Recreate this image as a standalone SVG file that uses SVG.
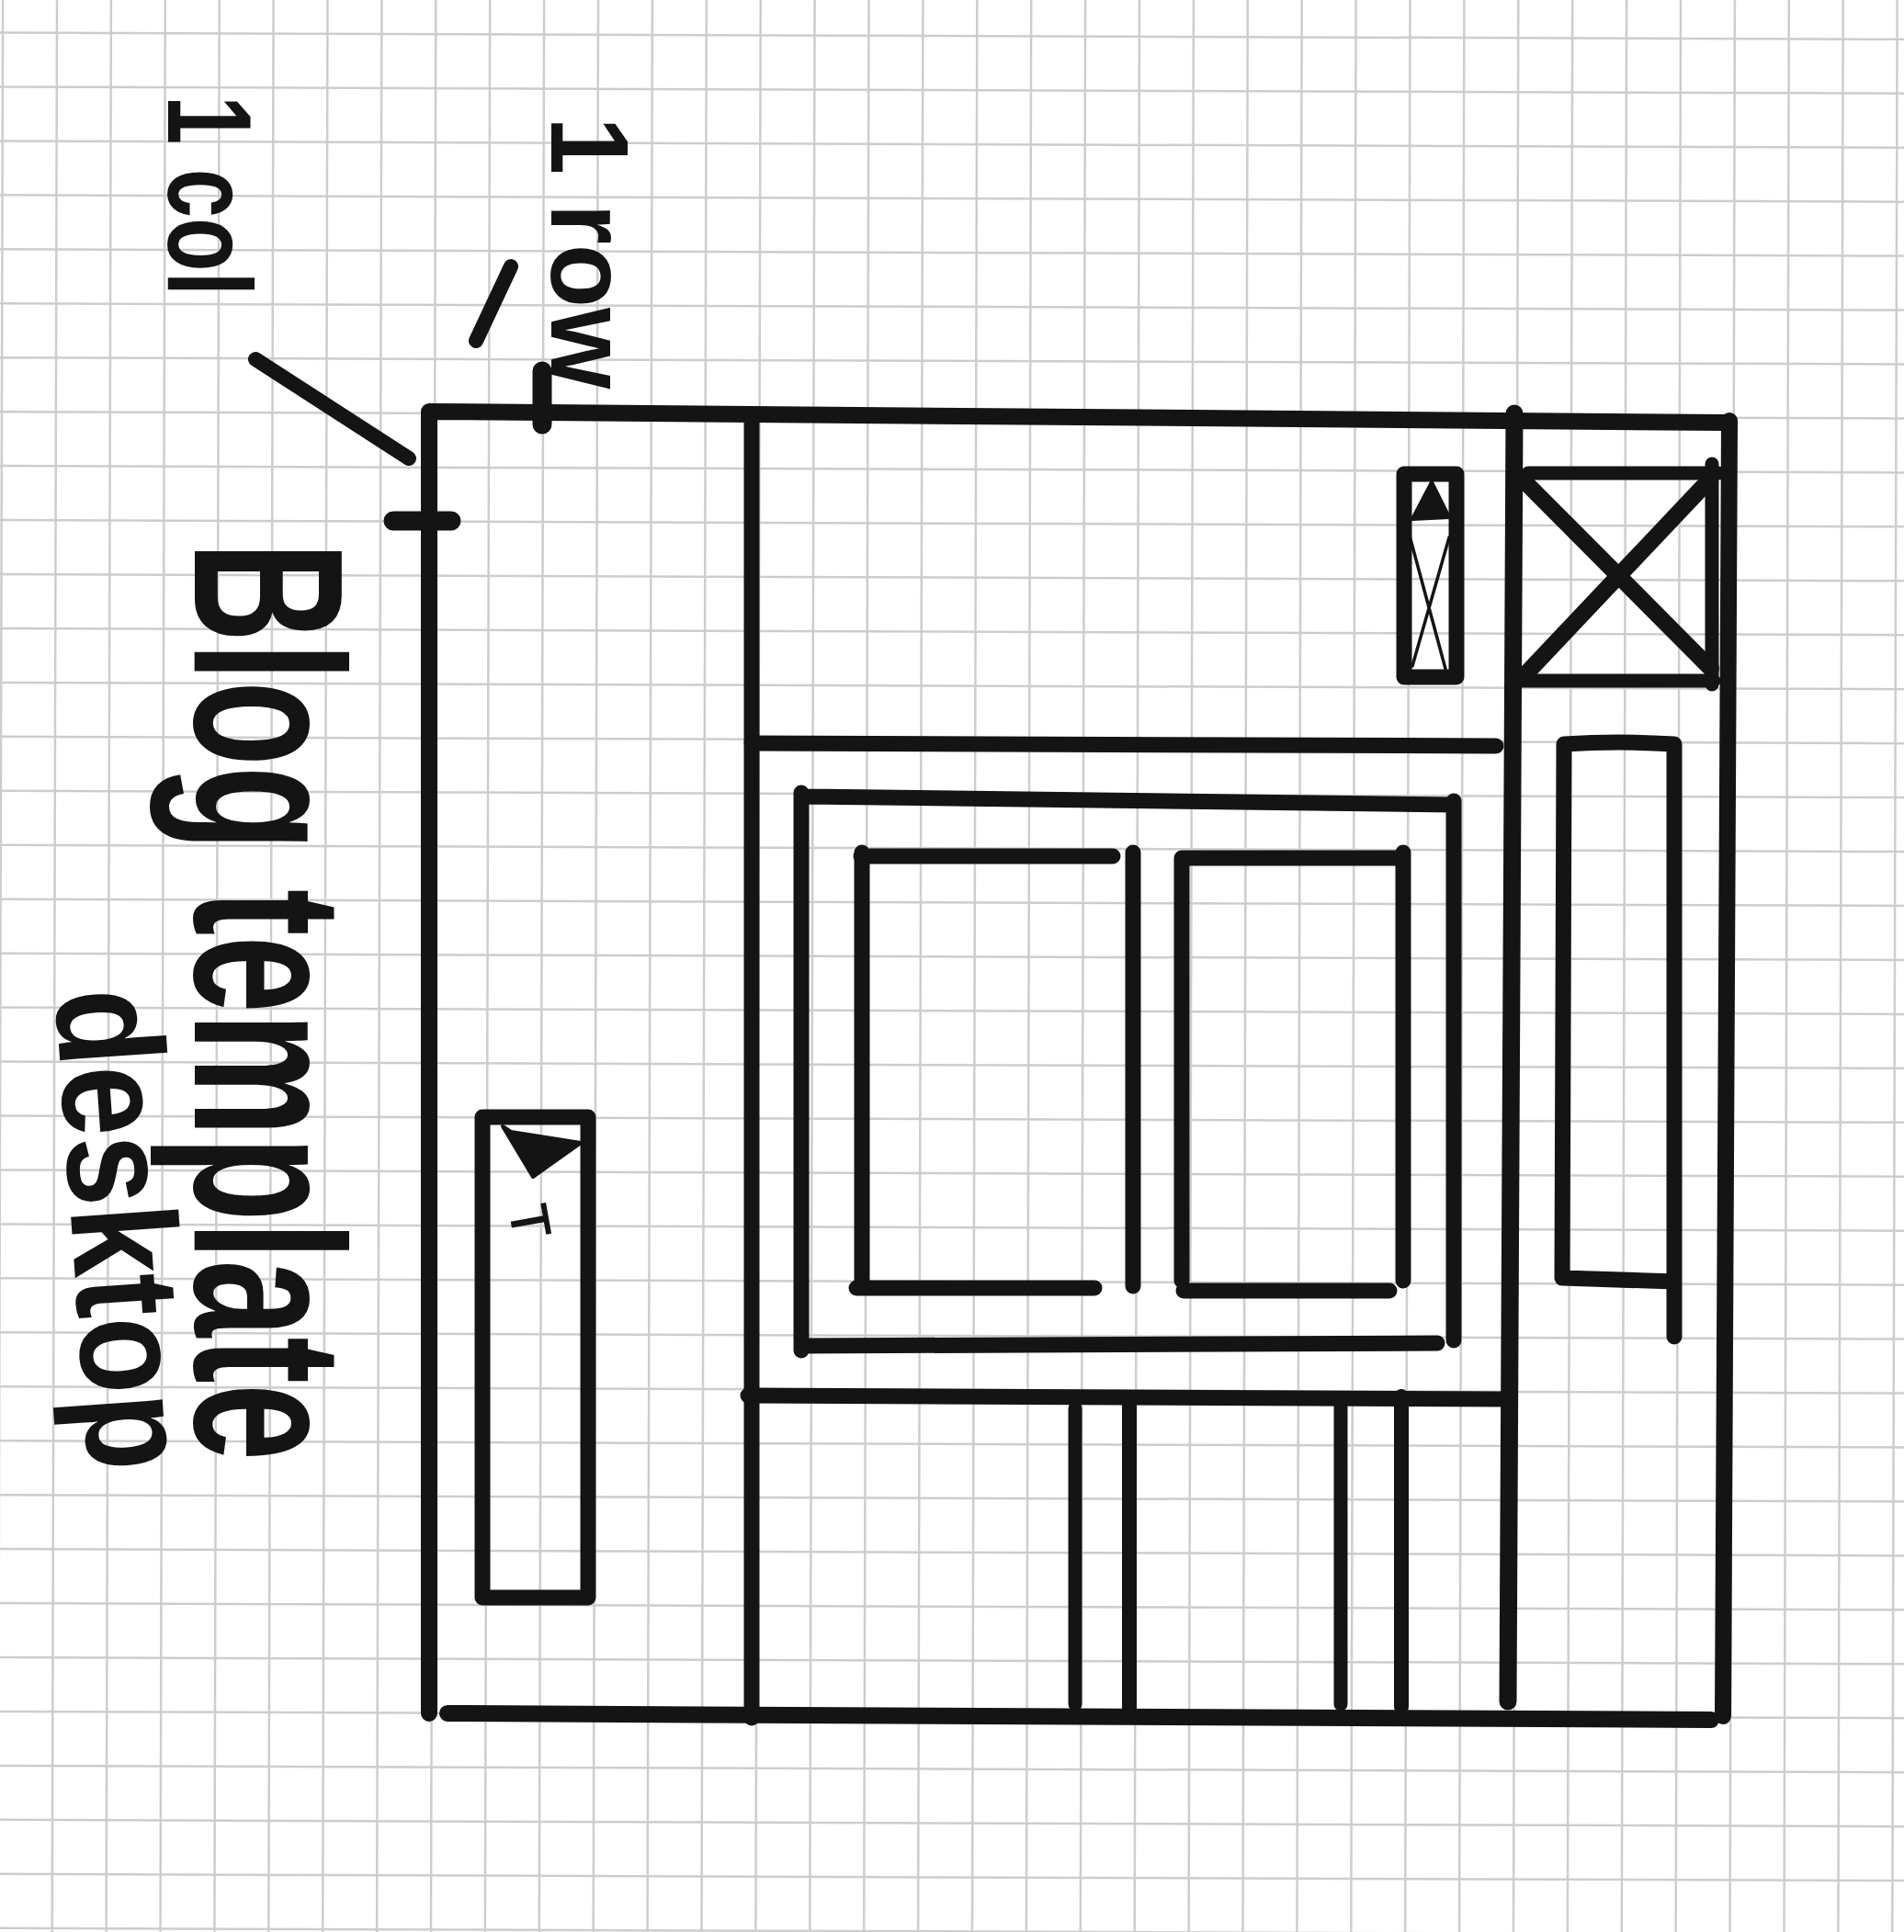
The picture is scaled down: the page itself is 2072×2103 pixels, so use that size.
<svg xmlns="http://www.w3.org/2000/svg" width="2072" height="2103" viewBox="0 0 2072 2103">
<style>
.grid{fill:none;stroke:#cdcdcd;stroke-width:2.5}
.ink{fill:none;stroke:#141414;stroke-linecap:round;stroke-linejoin:round;stroke-width:17}
.thin{fill:none;stroke:#141414;stroke-linecap:round;stroke-width:3.5}
.fill{fill:#141414;stroke:#141414;stroke-width:4;stroke-linejoin:round}
.hand{font-family:"Liberation Sans","DejaVu Sans",sans-serif;font-weight:bold;fill:#141414}
</style>
<rect width="2072" height="2103" fill="#ffffff"/>
<g id="grid-paper">
<path class="grid" d="M3.1,0L-2.2,2103M62,0L56.7,2103M120.9,0L115.6,2103M179.8,0L174.5,2103M238.7,0L233.4,2103M297.6,0L292.3,2103M356.5,0L351.2,2103M415.4,0L410.1,2103M474.3,0L469,2103M533.2,0L527.9,2103M592.1,0L586.8,2103M651,0L645.7,2103M709.9,0L704.6,2103M768.8,0L763.5,2103M827.7,0L822.4,2103M886.6,0L881.3,2103M945.5,0L940.2,2103M1004.4,0L999.1,2103M1063.3,0L1058,2103M1122.2,0L1116.9,2103M1181.1,0L1175.8,2103M1240,0L1234.7,2103M1298.9,0L1293.6,2103M1357.8,0L1352.5,2103M1416.7,0L1411.4,2103M1475.6,0L1470.3,2103M1534.5,0L1529.2,2103M1593.4,0L1588.1,2103M1652.3,0L1647,2103M1711.2,0L1705.9,2103M1770.1,0L1764.8,2103M1829,0L1823.7,2103M1887.9,0L1882.6,2103M1946.8,0L1941.5,2103M2005.7,0L2000.4,2103M2064.6,0L2059.3,2103"/>
<path class="grid" d="M0,35.5L2072,42.8M0,94.45L2072,101.75M0,153.4L2072,160.7M0,212.35L2072,219.65M0,271.3L2072,278.6M0,330.25L2072,337.55M0,389.2L2072,396.5M0,448.15L2072,455.45M0,507.1L2072,514.4M0,566.05L2072,573.35M0,625L2072,632.3M0,683.95L2072,691.25M0,742.9L2072,750.2M0,801.85L2072,809.15M0,860.8L2072,868.1M0,919.75L2072,927.05M0,978.7L2072,986M0,1037.65L2072,1044.95M0,1096.6L2072,1103.9M0,1155.55L2072,1162.85M0,1214.5L2072,1221.8M0,1273.45L2072,1280.75M0,1332.4L2072,1339.7M0,1391.35L2072,1398.65M0,1450.3L2072,1457.6M0,1509.25L2072,1516.55M0,1568.2L2072,1575.5M0,1627.15L2072,1634.45M0,1686.1L2072,1693.4M0,1745.05L2072,1752.35M0,1804L2072,1811.3M0,1862.95L2072,1870.25M0,1921.9L2072,1929.2M0,1980.85L2072,1988.15M0,2039.8L2072,2047.1M0,2098.75L2072,2106.05"/>
</g>
<g id="page-frame">
<path class="ink" style="stroke-width:18" d="M468,448L1877,460M467,448L467,1865M487,1865L1862,1872M1882,458L1875,1868"/>
</g>
<g id="sidebar-divider">
<path class="ink" d="M818,452L818,1870"/>
</g>
<g id="right-column-divider">
<path class="ink" style="stroke-width:19" d="M1648,450L1641,1852"/>
</g>
<g id="header">
<path class="ink" d="M818,809L1628,812"/>
</g>
<g id="footer-divider">
<path class="ink" d="M814,1519L1641,1523"/>
</g>
<g id="footer-columns">
<path class="ink" style="stroke-width:15" d="M1170,1533L1170,1855M1459,1522L1459,1855"/>
<path class="ink" style="stroke-width:16" d="M1229,1523L1229,1862M1525,1520L1525,1858"/>
</g>
<g id="header-icon">
<path class="ink" d="M1528,516L1585,516L1585,737L1528,737Z"/>
<path class="fill" d="M1558,525L1537,565L1577,563Z"/>
<path class="thin" d="M1535,587L1573,728M1577,585L1537,725"/>
</g>
<g id="logo-box">
<path class="ink" style="stroke-width:15" d="M1663,515L1870,515M1863,505L1863,745M1650,741L1865,741"/>
<path class="ink" style="stroke-width:18" d="M1662,527L1862,728M1853,530L1662,732"/>
</g>
<g id="sidebar-box">
<path class="ink" d="M1702,810Q1762,806 1822,810L1822,1455M1702,810L1700,1391L1822,1395"/>
</g>
<g id="content-box">
<path class="ink" d="M877,867L1581,876M872,863L872,1470M872,1465L1564,1462M1582,872L1582,1459"/>
</g>
<g id="post-left">
<path class="ink" d="M937,932L1211,932M938,928L938,1402M932,1402L1191,1402M1233,928L1233,1400"/>
</g>
<g id="post-right">
<path class="ink" d="M1288,934L1527,934M1286,934L1286,1394M1288,1405L1512,1405M1527,928L1527,1394"/>
</g>
<g id="nav-box">
<path class="ink" d="M525,1216L640,1216L640,1739L525,1739Z"/>
<path class="fill" d="M547,1226L556,1232L632,1244L580,1281Z"/>
<text class="hand" style="font-weight:normal;stroke:#141414;stroke-width:1.5" font-size="58" text-anchor="middle" transform="translate(557,1333) rotate(80)">T</text>
</g>
<g id="connectors">
<path class="ink" style="stroke-width:21" d="M590,404L590,462M428,567L491,567"/>
<path class="ink" style="stroke-width:16" d="M278,391L445,499M556,290L518,371"/>
</g>
<g id="labels">
<text class="hand" font-size="130" transform="translate(183,104) rotate(90) scale(0.736,1)">1 col</text>
<text class="hand" font-size="120" transform="translate(600,127) rotate(90) scale(0.945,1)">1 row</text>
<text class="hand" font-size="232" transform="translate(212,590) rotate(90) scale(0.652,1)">Blog template</text>
<text class="hand" font-size="162" transform="translate(60,1080) rotate(86) scale(0.845,1)">desktop</text>
</g>
</svg>
